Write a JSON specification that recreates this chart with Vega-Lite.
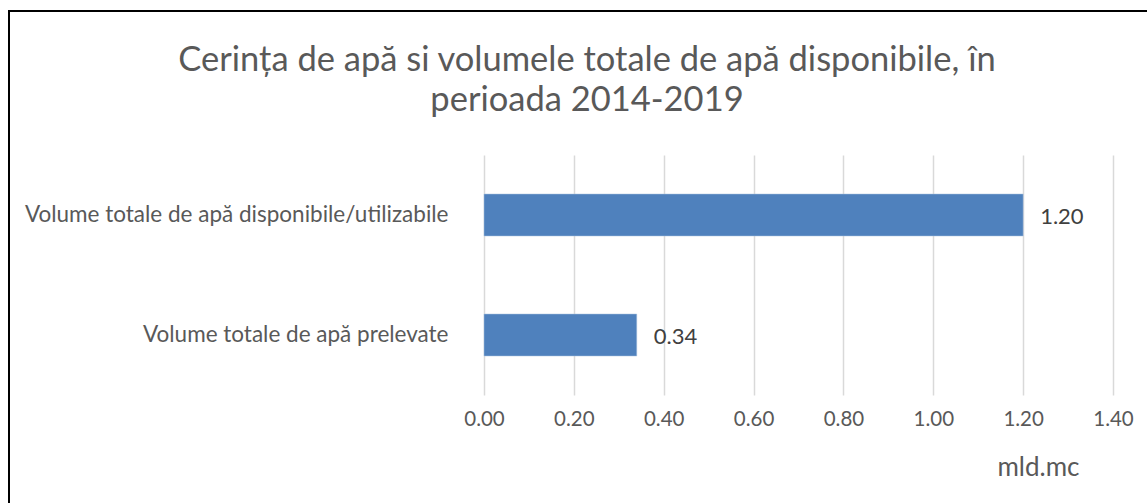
{
  "$schema": "https://vega.github.io/schema/vega-lite/v6.json",
  "autosize": {"type": "none"},
  "padding": {"left": 9, "top": 11, "right": -18, "bottom": -36},
  "width": 1156,
  "height": 528,
  "background": "white",
  "config": {
    "view": {"stroke": "#000000", "strokeWidth": 2},
    "font": "Lato"
  },
  "title": {
    "text": ["Cerința de apă si volumele totale de apă disponibile, în", "perioada 2014-2019"],
    "font": "Lato",
    "fontSize": 34.5,
    "fontWeight": "normal",
    "color": "#595959",
    "lineHeight": 40,
    "anchor": "middle",
    "frame": "group",
    "orient": "top",
    "baseline": "alphabetic",
    "offset": -134
  },
  "data": {
    "values": [
      {"categorie": "Volume totale de apă disponibile/utilizabile", "valoare": 1.20},
      {"categorie": "Volume totale de apă prelevate", "valoare": 0.34}
    ]
  },
  "encoding": {
    "y": {
      "field": "categorie",
      "type": "nominal",
      "sort": null,
      "scale": {"range": [144, 384], "paddingInner": 0.65, "paddingOuter": 0.325},
      "axis": {
        "title": null,
        "orient": "left",
        "offset": -475,
        "domain": false,
        "ticks": false,
        "tickSize": 0,
        "grid": false,
        "labelPadding": 36,
        "labelFont": "Lato",
        "labelFontSize": 22.5,
        "labelColor": "#595959",
        "labelLimit": 600
      }
    },
    "x": {
      "field": "valoare",
      "type": "quantitative",
      "scale": {"domain": [0, 1.4], "range": [475, 1104], "nice": false, "zero": true},
      "axis": {
        "title": "mld.mc",
        "orient": "bottom",
        "offset": -144,
        "values": [0, 0.2, 0.4, 0.6, 0.8, 1.0, 1.2, 1.4],
        "format": ".2f",
        "domain": false,
        "ticks": false,
        "tickSize": 0,
        "grid": true,
        "gridColor": "#D9D9D9",
        "gridWidth": 1.5,
        "labelPadding": 14,
        "labelFont": "Lato",
        "labelFontSize": 20.5,
        "labelColor": "#595959",
        "labelFlush": false,
        "titleFont": "Lato",
        "titleFontSize": 26,
        "titleFontWeight": "normal",
        "titleColor": "#595959",
        "titleX": 1029,
        "titleY": 72,
        "titleAlign": "center",
        "titleBaseline": "middle",
        "titleAnchor": null
      }
    }
  },
  "layer": [
    {
      "mark": {"type": "bar", "color": "#4F81BD", "stroke": "#A9C0DE", "strokeWidth": 0.5}
    },
    {
      "mark": {"type": "text", "align": "left", "baseline": "middle", "dx": 17, "dy": 2, "fontSize": 22, "font": "Lato", "color": "#404040"},
      "encoding": {"text": {"field": "valoare", "type": "quantitative", "format": ".2f"}}
    }
  ]
}
